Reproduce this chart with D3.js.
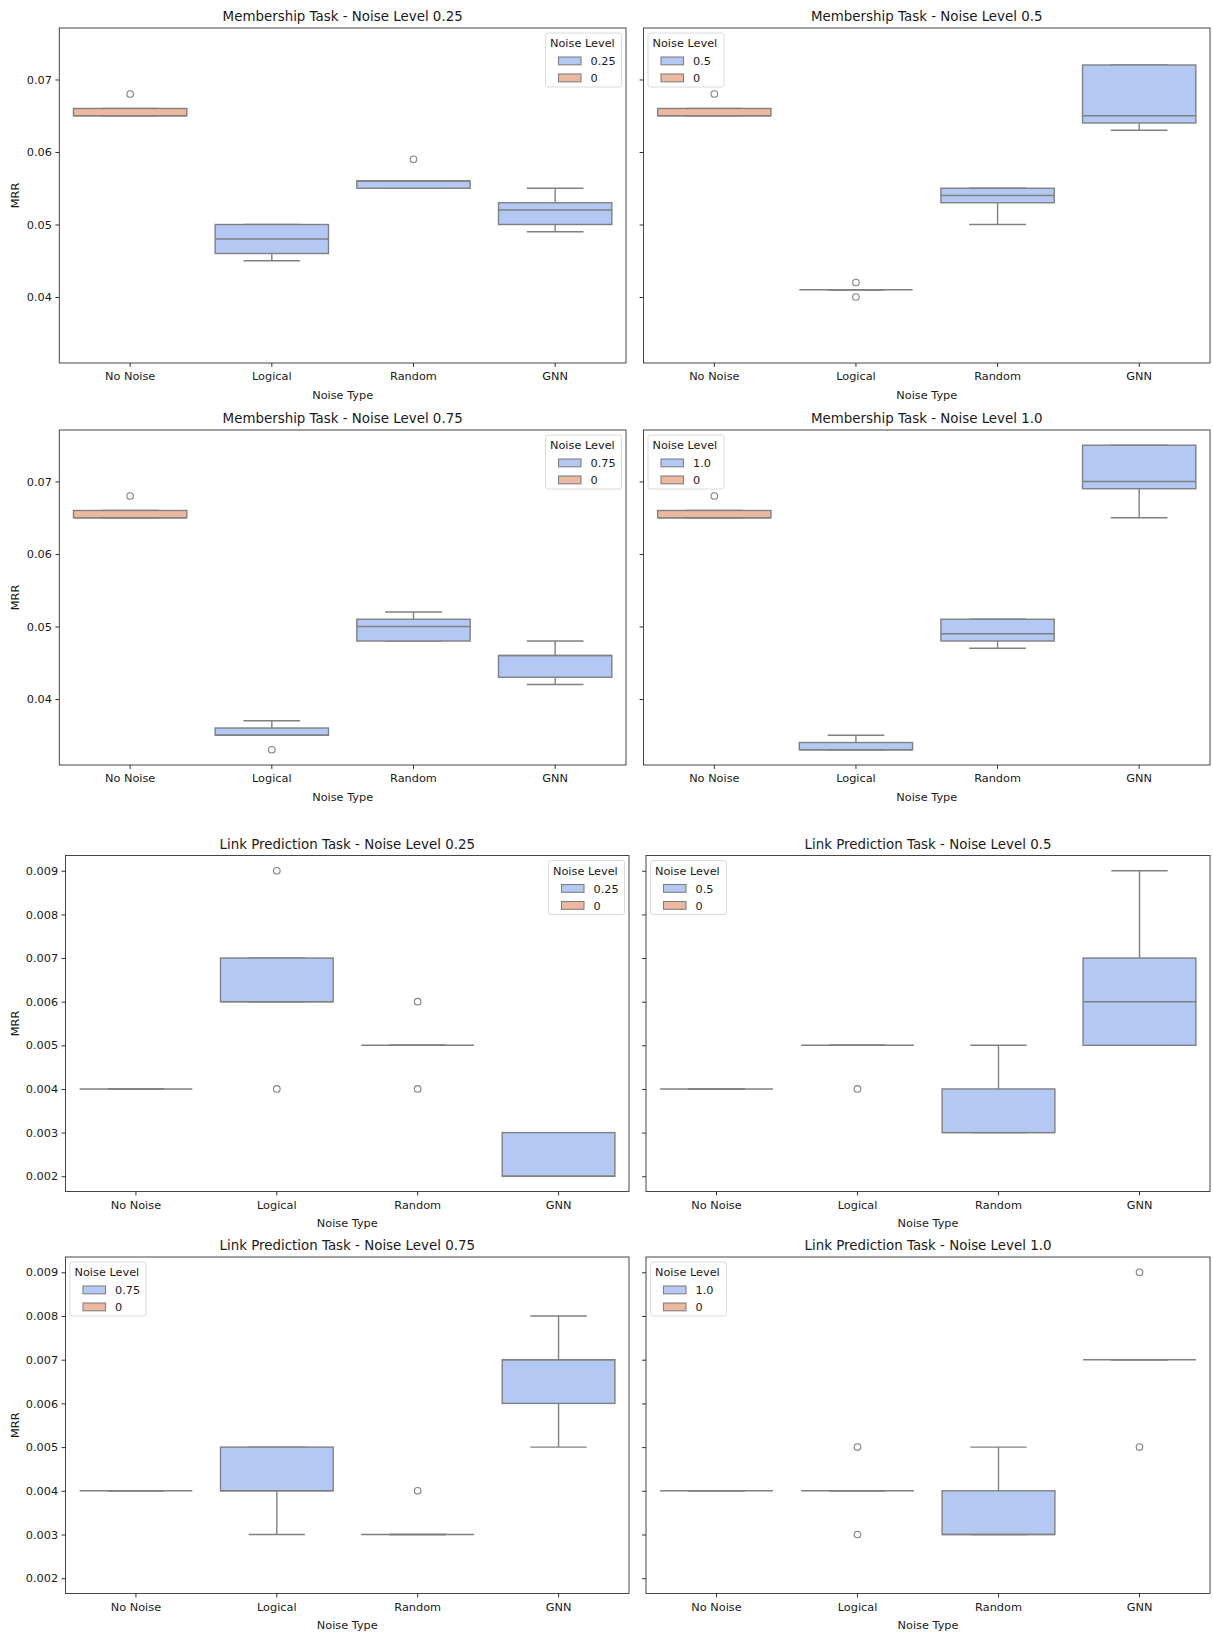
<!DOCTYPE html>
<html>
<head>
<meta charset="utf-8">
<script src="https://cdn.jsdelivr.net/npm/d3@7"></script>
<style>
  body { margin: 0; background: #fff; }
  svg { font-family: "DejaVu Sans", sans-serif; }
</style>
</head>
<body>
<svg id="chart" width="1213" height="1633"></svg>
<script>
// categories and labels
const categories = ["No Noise", "Logical", "Random", "GNN"];
const noiseLevels = ["0.25", "0.5", "0.75", "1.0"];
const baselineLevel = "0";
const memTicks = [0.04, 0.05, 0.06, 0.07];
const linkTicks = [0.002, 0.003, 0.004, 0.005, 0.006, 0.007, 0.008, 0.009];

// box stats: lo/hi = whisker ends, out = fliers
const mem025 = [
  { lo: 0.065, q1: 0.065, med: 0.065, q3: 0.066, hi: 0.066, out: [0.068] },
  { lo: 0.045, q1: 0.046, med: 0.048, q3: 0.050, hi: 0.050, out: [] },
  { lo: 0.055, q1: 0.055, med: 0.056, q3: 0.056, hi: 0.056, out: [0.059] },
  { lo: 0.049, q1: 0.050, med: 0.052, q3: 0.053, hi: 0.055, out: [] }
];
const mem050 = [
  { lo: 0.065, q1: 0.065, med: 0.065, q3: 0.066, hi: 0.066, out: [0.068] },
  { lo: 0.041, q1: 0.041, med: 0.041, q3: 0.041, hi: 0.041, out: [0.042, 0.040] },
  { lo: 0.050, q1: 0.053, med: 0.054, q3: 0.055, hi: 0.055, out: [] },
  { lo: 0.063, q1: 0.064, med: 0.065, q3: 0.072, hi: 0.072, out: [] }
];
const mem075 = [
  { lo: 0.065, q1: 0.065, med: 0.065, q3: 0.066, hi: 0.066, out: [0.068] },
  { lo: 0.035, q1: 0.035, med: 0.035, q3: 0.036, hi: 0.037, out: [0.033] },
  { lo: 0.048, q1: 0.048, med: 0.050, q3: 0.051, hi: 0.052, out: [] },
  { lo: 0.042, q1: 0.043, med: 0.046, q3: 0.046, hi: 0.048, out: [] }
];
const mem100 = [
  { lo: 0.065, q1: 0.065, med: 0.065, q3: 0.066, hi: 0.066, out: [0.068] },
  { lo: 0.033, q1: 0.033, med: 0.033, q3: 0.034, hi: 0.035, out: [] },
  { lo: 0.047, q1: 0.048, med: 0.049, q3: 0.051, hi: 0.051, out: [] },
  { lo: 0.065, q1: 0.069, med: 0.070, q3: 0.075, hi: 0.075, out: [] }
];
const link025 = [
  { lo: 0.004, q1: 0.004, med: 0.004, q3: 0.004, hi: 0.004, out: [] },
  { lo: 0.006, q1: 0.006, med: 0.006, q3: 0.007, hi: 0.007, out: [0.009, 0.004] },
  { lo: 0.005, q1: 0.005, med: 0.005, q3: 0.005, hi: 0.005, out: [0.006, 0.004] },
  { lo: 0.002, q1: 0.002, med: 0.002, q3: 0.003, hi: 0.003, out: [] }
];
const link050 = [
  { lo: 0.004, q1: 0.004, med: 0.004, q3: 0.004, hi: 0.004, out: [] },
  { lo: 0.005, q1: 0.005, med: 0.005, q3: 0.005, hi: 0.005, out: [0.004] },
  { lo: 0.003, q1: 0.003, med: 0.003, q3: 0.004, hi: 0.005, out: [] },
  { lo: 0.005, q1: 0.005, med: 0.006, q3: 0.007, hi: 0.009, out: [] }
];
const link075 = [
  { lo: 0.004, q1: 0.004, med: 0.004, q3: 0.004, hi: 0.004, out: [] },
  { lo: 0.003, q1: 0.004, med: 0.004, q3: 0.005, hi: 0.005, out: [] },
  { lo: 0.003, q1: 0.003, med: 0.003, q3: 0.003, hi: 0.003, out: [0.004] },
  { lo: 0.005, q1: 0.006, med: 0.007, q3: 0.007, hi: 0.008, out: [] }
];
const link100 = [
  { lo: 0.004, q1: 0.004, med: 0.004, q3: 0.004, hi: 0.004, out: [] },
  { lo: 0.004, q1: 0.004, med: 0.004, q3: 0.004, hi: 0.004, out: [0.005, 0.003] },
  { lo: 0.003, q1: 0.003, med: 0.003, q3: 0.004, hi: 0.005, out: [] },
  { lo: 0.007, q1: 0.007, med: 0.007, q3: 0.007, hi: 0.007, out: [0.009, 0.005] }
];

const blue = "#b3c8f2", salmon = "#ecb9a0", lineCol = "#808080", ink = "#1a1a1a";

const svg = d3.select("#chart");

// matplotlib-like autoscale with 5% margins, shared over a task's panels
function sharedDomain(sets) {
  const vals = sets.flatMap(s => s.flatMap(b => [b.lo, b.hi, ...b.out]));
  const lo = d3.min(vals), hi = d3.max(vals), m = (hi - lo) * 0.05;
  return [lo - m, hi + m];
}
const memDomain = sharedDomain([mem025, mem050, mem075, mem100]);
const linkDomain = sharedDomain([link025, link050, link075, link100]);

const memCols = [[59.3, 626], [643.5, 1210]];
const memRows = [[28, 363], [430, 765]];
const linkCols = [[65.5, 629], [646, 1210]];
const linkRows = [[855.5, 1191.5], [1257, 1593.5]];

const panels = [
  { task: "Membership", data: mem025, lvl: 0, col: memCols[0], row: memRows[0], dom: memDomain, ticks: memTicks, fmt: ".2f", leg: "right" },
  { task: "Membership", data: mem050, lvl: 1, col: memCols[1], row: memRows[0], dom: memDomain, ticks: memTicks, fmt: ".2f", leg: "left" },
  { task: "Membership", data: mem075, lvl: 2, col: memCols[0], row: memRows[1], dom: memDomain, ticks: memTicks, fmt: ".2f", leg: "right" },
  { task: "Membership", data: mem100, lvl: 3, col: memCols[1], row: memRows[1], dom: memDomain, ticks: memTicks, fmt: ".2f", leg: "left" },
  { task: "Link Prediction", data: link025, lvl: 0, col: linkCols[0], row: linkRows[0], dom: linkDomain, ticks: linkTicks, fmt: ".3f", leg: "right" },
  { task: "Link Prediction", data: link050, lvl: 1, col: linkCols[1], row: linkRows[0], dom: linkDomain, ticks: linkTicks, fmt: ".3f", leg: "left" },
  { task: "Link Prediction", data: link075, lvl: 2, col: linkCols[0], row: linkRows[1], dom: linkDomain, ticks: linkTicks, fmt: ".3f", leg: "left" },
  { task: "Link Prediction", data: link100, lvl: 3, col: linkCols[1], row: linkRows[1], dom: linkDomain, ticks: linkTicks, fmt: ".3f", leg: "left" }
];

panels.forEach((p, pi) => {
  const [x0, x1] = p.col, [y0, y1] = p.row;
  const leftCol = (pi % 2 === 0);
  const x = d3.scaleBand().domain(categories).range([x0, x1]);
  const y = d3.scaleLinear().domain(p.dom).range([y1, y0]);
  const g = svg.append("g");
  const bw = x.bandwidth() * 0.8;

  p.data.forEach((b, i) => {
    const cx = x(categories[i]) + x.bandwidth() / 2;
    const fill = i === 0 ? salmon : blue;
    const bx = g.append("g").attr("stroke", lineCol).attr("stroke-width", 1.4).attr("fill", "none");
    bx.append("line").attr("x1", cx).attr("x2", cx).attr("y1", y(b.q3)).attr("y2", y(b.hi));
    bx.append("line").attr("x1", cx).attr("x2", cx).attr("y1", y(b.q1)).attr("y2", y(b.lo));
    bx.append("line").attr("x1", cx - bw / 4).attr("x2", cx + bw / 4).attr("y1", y(b.hi)).attr("y2", y(b.hi));
    bx.append("line").attr("x1", cx - bw / 4).attr("x2", cx + bw / 4).attr("y1", y(b.lo)).attr("y2", y(b.lo));
    bx.append("rect").attr("x", cx - bw / 2).attr("width", bw)
      .attr("y", y(b.q3)).attr("height", y(b.q1) - y(b.q3)).attr("fill", fill);
    bx.append("line").attr("x1", cx - bw / 2).attr("x2", cx + bw / 2).attr("y1", y(b.med)).attr("y2", y(b.med));
    bx.selectAll("circle.fl").data(b.out).join("circle").attr("class", "fl")
      .attr("cx", cx).attr("cy", d => y(d)).attr("r", 3.3).attr("stroke-width", 1.1);
  });

  // axes
  const ya = d3.axisLeft(y).tickValues(p.ticks).tickSize(3.9).tickSizeOuter(0).tickPadding(3.5)
    .tickFormat(leftCol ? d3.format(p.fmt) : "");
  const yg = g.append("g").attr("transform", `translate(${x0},0)`).call(ya);
  const xa = d3.axisBottom(x).tickSize(3.9).tickSizeOuter(0).tickPadding(5.5);
  const xg = g.append("g").attr("transform", `translate(0,${y1})`).call(xa);
  [yg, xg].forEach(a => {
    a.select(".domain").remove();
    a.selectAll(".tick line").attr("stroke", ink).attr("stroke-width", 0.9);
    a.selectAll(".tick text").attr("fill", ink).attr("font-size", 11.3).attr("font-family", "DejaVu Sans");
  });
  g.append("rect").attr("x", x0).attr("y", y0).attr("width", x1 - x0).attr("height", y1 - y0)
    .attr("fill", "none").attr("stroke", "#333").attr("stroke-width", 0.9);

  // titles and labels
  g.append("text").attr("x", (x0 + x1) / 2).attr("y", y0 - 7).attr("text-anchor", "middle")
    .attr("font-size", 13.4).attr("fill", ink)
    .text(`${p.task} Task - Noise Level ${noiseLevels[p.lvl]}`);
  g.append("text").attr("x", (x0 + x1) / 2).attr("y", y1 + 35.5).attr("text-anchor", "middle")
    .attr("font-size", 11.3).attr("fill", ink).text("Noise Type");
  if (leftCol) {
    g.append("text").attr("transform", `translate(19,${(y0 + y1) / 2}) rotate(-90)`)
      .attr("text-anchor", "middle").attr("font-size", 11.3).attr("fill", ink).text("MRR");
  }

  // legend
  const lw = 76, lh = 54;
  const lx = p.leg === "right" ? x1 - 4.5 - lw : x0 + 4.5;
  const ly = y0 + 5;
  const lg = g.append("g").attr("transform", `translate(${lx},${ly})`);
  lg.append("rect").attr("width", lw).attr("height", lh).attr("rx", 2.5)
    .attr("fill", "#fff").attr("fill-opacity", 0.8).attr("stroke", "#d6d6d6").attr("stroke-width", 0.9);
  lg.append("text").attr("x", 4.5).attr("y", 14).attr("font-size", 11.3).attr("fill", ink).text("Noise Level");
  const entries = [[noiseLevels[p.lvl], blue], [baselineLevel, salmon]];
  entries.forEach(([lab, c], k) => {
    lg.append("rect").attr("x", 13).attr("y", 24 + k * 17).attr("width", 22.5).attr("height", 7.8)
      .attr("fill", c).attr("stroke", lineCol).attr("stroke-width", 1.1);
    lg.append("text").attr("x", 45).attr("y", 32 + k * 17).attr("font-size", 11.3).attr("fill", ink).text(lab);
  });
});
</script>
</body>
</html>
